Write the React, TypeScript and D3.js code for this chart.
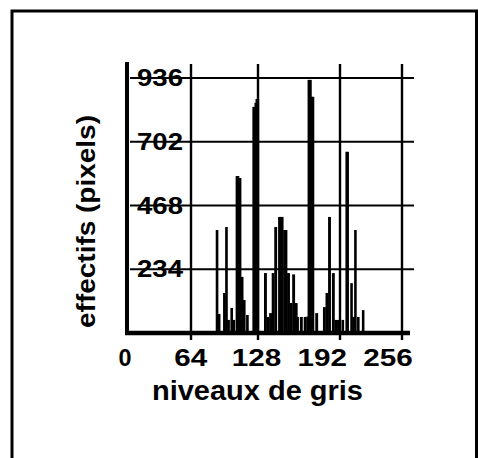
import React from 'react';
import * as d3 from 'd3';

// histogram of grey levels (level -> pixel count)
const grayLevels = [
  88, 90, 95, 97, 99, 102, 104, 107, 108, 109, 110, 112, 114, 117,
  123, 124, 125, 126, 127, 133, 135, 137, 139, 141, 144, 145, 146, 148, 149,
  151, 153, 155, 157, 158, 161, 164, 166, 167, 168, 169, 170, 173,
  179, 181, 183, 186, 188, 190, 194, 198, 199, 203, 205, 207, 210, 215,
];
const counts = [
  378, 70, 147, 389, 48, 92, 48, 576, 576, 569, 569, 206, 121, 66,
  830, 830, 845, 859, 859, 220, 59, 73, 220, 389, 426, 426, 426, 378, 378,
  220, 110, 215, 110, 59, 59, 59, 60, 929, 929, 867, 867, 73,
  95, 147, 426, 220, 48, 48, 48, 665, 665, 183, 59, 378, 59, 84,
];

const xTicks = [0, 64, 128, 192, 256];
const yTicks = [234, 468, 702, 936];
const xTitle = 'niveaux de gris';
const yTitle = 'effectifs (pixels)';

const W = 478;
const H = 458;
const FONT = '"Liberation Sans", Arial, Helvetica, sans-serif';

export default function App() {
  // the scanned axis is not quite linear, so the grid follows the printed ticks
  const x = d3.scaleLinear().domain(xTicks).range([127, 191, 258, 340, 402]);
  const xLab = d3.scaleLinear().domain([0, 256]).range([125, 388]);
  const y = d3.scaleLinear().domain([0, 936]).range([333, 78]);

  const bars = grayLevels.map((g, i) => ({ g, n: counts[i] }));

  return (
    <svg
      width={W}
      height={H}
      style={{ position: 'absolute', left: 0, top: 0, background: '#fff' }}
      fontFamily={FONT}
      fontWeight="bold"
    >
      {/* frame */}
      <path d={`M12,${H} V11 H476.5 V${H}`} fill="none" stroke="#000" strokeWidth={3} />

      {/* bars (ink spread in the scan makes them look a bit fat) */}
      {bars.map((d) => (
        <rect
          key={d.g}
          x={x(d.g) - 0.4}
          y={y(d.n)}
          width={x(d.g + 1) - x(d.g) + 1.6}
          height={y(0) - y(d.n)}
          fill="#000"
        />
      ))}

      {/* y tick labels (drawn under the grid lines, as in the original) */}
      {yTicks.map((t) => (
        <text
          key={'yl' + t}
          x={137}
          y={y(t) + 8}
          fontSize={23}
          textLength={46}
          lengthAdjust="spacingAndGlyphs"
        >
          {t}
        </text>
      ))}

      {/* horizontal grid */}
      {yTicks.map((t) => (
        <line key={'h' + t} x1={130} x2={414} y1={y(t)} y2={y(t)} stroke="#000" strokeWidth={2.2} />
      ))}

      {/* vertical grid + ticks */}
      {xTicks.slice(1).map((t) => (
        <line key={'v' + t} x1={x(t)} x2={x(t)} y1={64} y2={340} stroke="#000" strokeWidth={2.4} />
      ))}

      {/* axes */}
      <line x1={127} x2={127} y1={62} y2={335} stroke="#000" strokeWidth={4} />
      <line x1={125} x2={410} y1={y(0)} y2={y(0)} stroke="#000" strokeWidth={4.5} />

      {/* x tick labels */}
      {xTicks.map((t) => (
        <text
          key={'xl' + t}
          x={xLab(t)}
          y={366}
          fontSize={23}
          textAnchor="middle"
          textLength={t === 0 ? 13 : String(t).length * 16.5}
          lengthAdjust="spacingAndGlyphs"
        >
          {t}
        </text>
      ))}

      {/* titles */}
      <text
        x={257.5}
        y={400}
        fontSize={28}
        textAnchor="middle"
        textLength={211}
        lengthAdjust="spacingAndGlyphs"
      >
        {xTitle}
      </text>
      <text
        transform="translate(95,221.5) rotate(-90)"
        fontSize={26}
        textAnchor="middle"
        textLength={213}
        lengthAdjust="spacingAndGlyphs"
      >
        {yTitle}
      </text>
    </svg>
  );
}
